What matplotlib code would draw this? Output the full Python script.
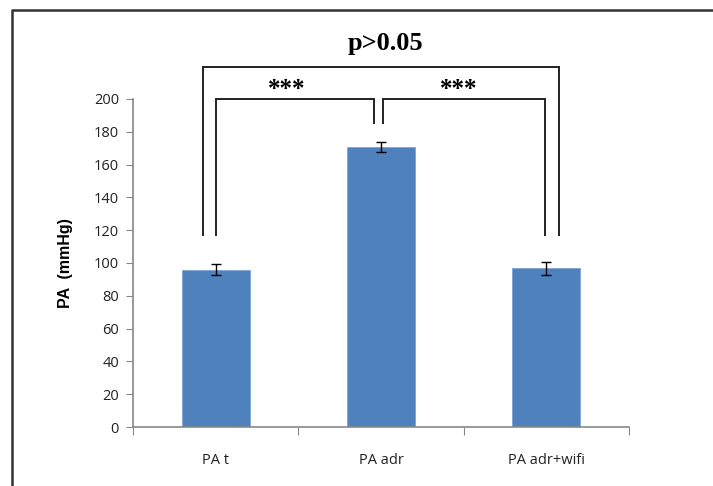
import matplotlib
matplotlib.use("Agg")
import matplotlib.pyplot as plt
from matplotlib.lines import Line2D
import numpy as np

groups = ["PA t", "PA adr", "PA adr+wifi"]
means = [96, 170.7, 96.8]
errors = [3.6, 3.0, 4.0]
y_ticks = [0, 20, 40, 60, 80, 100, 120, 140, 160, 180, 200]

fig = plt.figure(figsize=(7.13, 4.86), dpi=100)
W, H = 713, 486
ax = fig.add_axes([133 / W, (H - 427) / H, (629 - 133) / W, (427 - 99) / H])

x = np.arange(len(groups))
ax.bar(x, means, width=0.41, color="#4F81BD", edgecolor="#7FA3D3", linewidth=0.6, zorder=2)
ax.errorbar(x, means, yerr=errors, fmt="none", ecolor="black", elinewidth=1, capsize=3.5, capthick=1, zorder=3)

ax.set_xlim(-0.5, 2.5)
ax.set_ylim(0, 200)
ax.set_yticks(y_ticks)
ax.set_xticks([-0.5, 0.5, 1.5, 2.5])
ax.set_xticklabels([])
ax.set_xticks(x, minor=True)
ax.set_xticklabels(groups, minor=True, fontsize=10.5, family="Open Sans", color="#222222")
ax.tick_params(axis="x", which="minor", length=0, pad=19)
ax.tick_params(axis="x", which="major", length=6, color="#888888", direction="out")
ax.tick_params(axis="y", length=5, color="#888888", direction="out", labelsize=10.5, pad=5, labelcolor="#222222")
for lab in ax.get_yticklabels():
    lab.set_family("Open Sans")

for s in ["top", "right"]:
    ax.spines[s].set_visible(False)
for s in ["left", "bottom"]:
    ax.spines[s].set_color("#888888")
    ax.spines[s].set_linewidth(1.2)

ax.set_ylabel("PA  (mmHg)", fontsize=11.5, fontweight="bold", family="Liberation Sans", labelpad=15)

# significance brackets
kw = dict(color="#222222", lw=1.4, clip_on=False, solid_capstyle="butt", solid_joinstyle="miter")
ax.plot([-0.076, -0.076, 2.076, 2.076], [116.5, 219.5, 219.5, 116.5], **kw)
ax.plot([0.0, 0.0, 0.96, 0.96], [116.5, 200, 200, 185], **kw)
ax.plot([1.015, 1.015, 1.99, 1.99], [185, 200, 200, 116.5], **kw)
ax.text(0.43, 205.5, "***", ha="center", va="center", fontsize=18, fontweight="bold", family="Liberation Serif")
ax.text(1.47, 205.5, "***", ha="center", va="center", fontsize=18, fontweight="bold", family="Liberation Serif")
ax.text(1.03, 234, "p>0.05", ha="center", va="center", fontsize=19, fontweight="bold", family="Liberation Serif")

# outer frame (left and top edges)
fig.add_artist(Line2D([12 / W, 12 / W, 1.0], [0.0, 1 - 10 / H, 1 - 10 / H],
                      transform=fig.transFigure, color="#333333", lw=1.8))

fig.savefig("out.png", dpi=100)
